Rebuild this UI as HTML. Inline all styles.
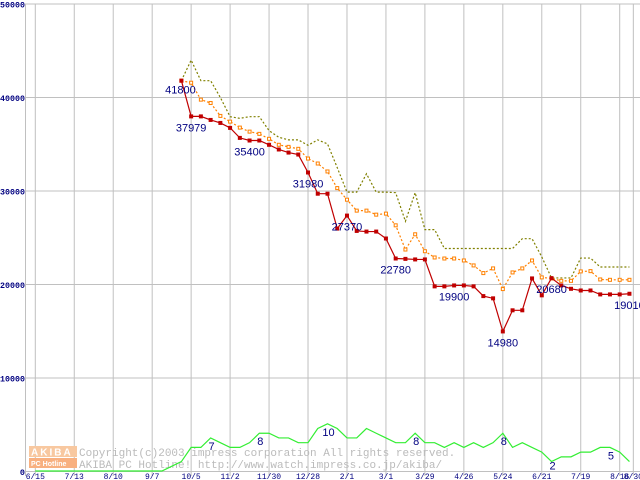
<!DOCTYPE html>
<html><head><meta charset="utf-8"><style>
body{margin:0;background:#fff;}
svg{display:block;font-family:"Liberation Sans",sans-serif;}
</style></head><body>
<svg id="chart" width="640" height="480" viewBox="0 0 640 480" xmlns="http://www.w3.org/2000/svg">
<g id="grid"></g>
<g id="axes"></g>
<g id="wm">
 <rect x="29" y="446" width="48" height="11" fill="#f8c8a0"/>
 <rect x="29" y="458" width="48" height="10" fill="#f8b080"/>
 <text x="31" y="455.5" font-size="10" font-weight="bold" fill="#fff" letter-spacing="2">AKIBA</text>
 <text x="31" y="466" font-size="7" font-weight="bold" fill="#fff">PC Hotline</text>
 <text x="79" y="456" font-family="Liberation Mono,monospace" font-size="11" fill="#bbbbbb">Copyright(c)2003 impress corporation All rights reserved.</text>
 <text x="79" y="468" font-family="Liberation Mono,monospace" font-size="11" fill="#bbbbbb">AKIBA PC Hotline!  http://www.watch.impress.co.jp/akiba/</text>
</g>
<g id="series"></g>
<g id="labels"></g>
</svg>
<script>
const yTicks=[0,10000,20000,30000,40000,50000];
const xTickLabels=["6/15","7/13","8/10","9/7","10/5","11/2","11/30","12/28","2/1","3/1","3/29","4/26","5/24","6/21","7/19","8/16","8/30"];
const xTickWeeks=[0,4,8,12,16,20,24,28,32,36,40,44,48,52,56,60,61.4];
const priceStartWeek=15;
const minPrice=[41800,37979,37979,37600,37280,36750,35680,35400,35400,34940,34440,34110,33900,31980,29710,29710,25980,27370,25730,25660,25660,24920,22780,22740,22680,22680,19800,19800,19900,19900,19800,18760,18520,14980,17240,17240,20650,18840,20680,19900,19540,19360,19360,18940,18940,18940,19010];
const avgPrice=[41800,41580,39770,39410,38030,37420,36780,36350,36110,35580,34940,34720,34510,33470,32940,32090,30310,29070,27900,27900,27470,27580,26330,23740,25370,23560,22890,22780,22780,22570,22040,21220,21720,19510,21290,21720,22570,20760,20650,20390,20390,21400,21430,20540,20500,20500,20500];
const maxPrice=[41800,44000,41800,41800,40000,37950,37770,37950,37950,36460,35750,35470,35470,34890,35470,35040,32500,29880,29880,31840,29880,29880,29820,26760,29820,25870,25870,23850,23850,23850,23850,23850,23850,23850,23850,24900,24900,22950,20700,20700,20700,22830,22830,21870,21870,21870,21870];
const shopCount=[0,0,0,0,0,0,0,0,0,0,0,0,0,0,1,2,5,5,7,6,5,5,6,8,8,7,7,6,6,9,10,9,7,7,9,8,7,6,6,8,6,6,5,6,5,6,5,6,8,5,6,5,4,2,3,3,4,4,5,5,4,2];
const priceLabelIdx=[0,1,7,13,17,22,28,33,38,46];
const countLabelWeeks=[18,23,30,39,48,53,59];

const NS="http://www.w3.org/2000/svg";
const X=w=>35.3+w*9.74;
const Y=v=>471.5-v*0.00935;
const YC=c=>471-c*4.72;
function mk(tag,attrs,parent){const e=document.createElementNS(NS,tag);for(const k in attrs)e.setAttribute(k,attrs[k]);parent.appendChild(e);return e;}
const grid=document.getElementById('grid'),axes=document.getElementById('axes'),ser=document.getElementById('series'),lab=document.getElementById('labels');

yTicks.forEach(v=>{
 const l=mk('line',{x1:25,x2:640,y1:Y(v),y2:Y(v),stroke:'#c0c0c0','stroke-width':1},grid);
 
 
 const s=String(v);
 const a={x:25,y:Y(v)+3.5,'text-anchor':'end','font-size':8.5,'font-weight':'bold',fill:'#000080','font-family':'Liberation Mono,monospace'};
 if(s.length>1){a.textLength=25;a.lengthAdjust='spacingAndGlyphs';}
 const t=mk('text',a,axes);
 t.textContent=s;
 
 
});
mk('line',{x1:25.5,x2:25.5,y1:Y(50000),y2:476,stroke:'#c0c0c0'},grid);
xTickWeeks.forEach((w,i)=>{
 const l=mk('line',{x1:X(w),x2:X(w),y1:Y(50000),y2:476,stroke:'#c0c0c0','stroke-width':1},grid);
 
 
 const t=mk('text',{x:X(w),y:479,'text-anchor':'middle','font-size':8,fill:'#000080','font-family':'Liberation Mono,monospace'},axes);
 t.textContent=xTickLabels[i];
 
 
});

let pts=shopCount.map((c,w)=>X(w)+','+YC(c)).join(' ');
const vl=mk('polyline',{points:pts,fill:'none',stroke:'#33ee33','stroke-width':1.2},ser);



function priceLine(arr,color,dash,name){
 const p=arr.map((v,i)=>X(priceStartWeek+i)+','+Y(v)).join(' ');
 const a={points:p,fill:'none',stroke:color,'stroke-width':1.2};
 if(dash)a['stroke-dasharray']=dash;
 const e=mk('polyline',a,ser);
 
 
}
priceLine(maxPrice,'#808000','2,2','max-price-line');
priceLine(avgPrice,'#ff8000','2,2','avg-price-line');
avgPrice.forEach((v,i)=>{
 const r=mk('rect',{x:X(priceStartWeek+i)-1.5,y:Y(v)-1.5,width:3,height:3,fill:'#fff',stroke:'#ff8000','stroke-width':1},ser);
 
 
});
priceLine(minPrice,'#c00000',null,'min-price-line');
minPrice.forEach((v,i)=>{
 const r=mk('rect',{x:X(priceStartWeek+i)-2,y:Y(v)-2,width:4,height:4,fill:'#c00000'},ser);
 
 
});
priceLabelIdx.forEach((i,k)=>{
 const v=minPrice[i];
 const t=mk('text',{x:X(priceStartWeek+i)+(k==0?-1:0),y:Y(v)+(k==0?13:15),'text-anchor':'middle','font-size':11,fill:'#000080'},lab);
 t.textContent=String(v);
 
 
});
countLabelWeeks.forEach(w=>{
 const c=shopCount[w];
 const t=mk('text',{x:X(w)+1,y:YC(c)+8+(c<4?0:4),'text-anchor':'middle','font-size':11,fill:'#000080'},lab);
 t.textContent=String(c);
 
 
});
</script>
</body></html>
